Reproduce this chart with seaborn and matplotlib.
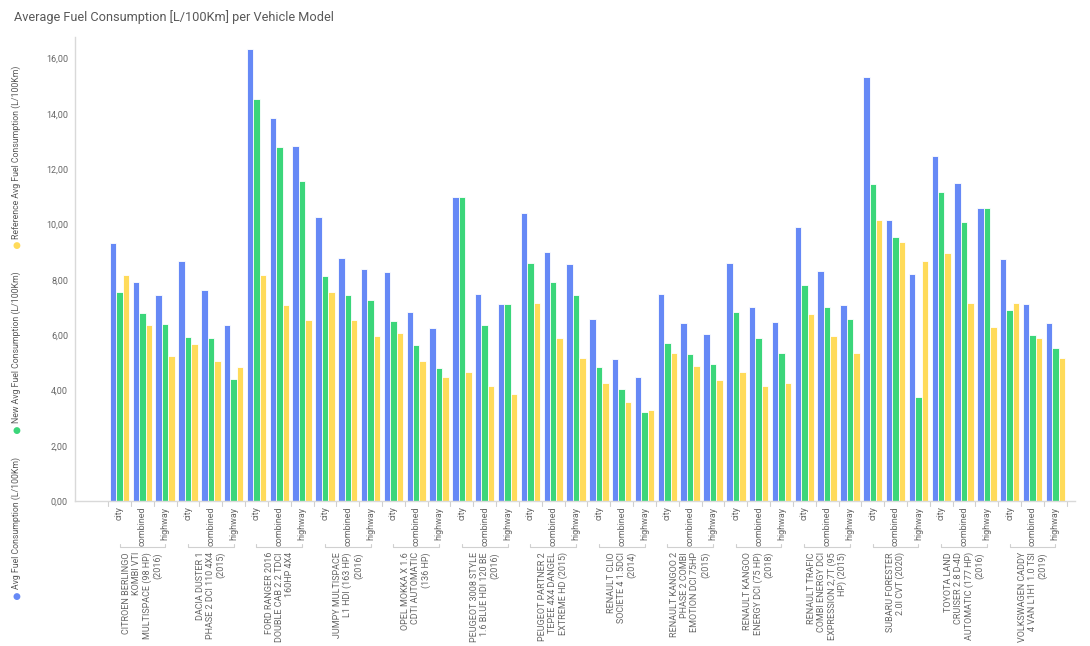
import matplotlib
matplotlib.use("Agg")
import matplotlib.pyplot as plt
from matplotlib.ticker import FuncFormatter, FixedLocator
import matplotlib.transforms as mtransforms
import seaborn as sns
import pandas as pd

models = [
    "CITROEN BERLINGO\nKOMBI VTI\nMULTISPACE (98 HP)\n(2016)",
    "DACIA DUSTER 1\nPHASE 2 DCI 110 4X4\n(2015)",
    "FORD RANGER 2016\nDOUBLE CAB 2.2 TDCI\n160HP 4X4",
    "JUMPY MULTISPACE\nL1 HDI (163 HP)\n(2016)",
    "OPEL MOKKA X 1.6\nCDTI AUTOMATIC\n(136 HP)",
    "PEUGEOT 3008 STYLE\n1.6 BLUE HDI 120 BE\n(2016)",
    "PEUGEOT PARTNER 2\nTEPEE 4X4 DANGEL\nEXTREME HD (2015)",
    "RENAULT CLIO\nSOCIETE 4 1.5DCI\n(2014)",
    "RENAULT KANGOO 2\nPHASE 2 COMBI\nEMOTION DCI 75HP\n(2015)",
    "RENAULT KANGOO\nENERGY DCI (75 HP)\n(2018)",
    "RENAULT TRAFIC\nCOMBI ENERGY DCI\nEXPRESSION 2,7T (95\nHP) (2015)",
    "SUBARU FORESTER\n2.0I CVT (2020)",
    "TOYOTA LAND\nCRUISER 2.8 D-4D\nAUTOMATIC (177 HP)\n(2016)",
    "VOLKSWAGEN CADDY\n4 VAN L1H1 1.0 TSI\n(2019)",
]
modes = ["city", "combined", "highway"]

# values per model: city, combined, highway
avg_fuel = [
    9.34, 7.93, 7.46,
    8.69, 7.62, 6.38,
    16.35, 13.84, 12.83,
    10.27, 8.79, 8.40,
    8.27, 6.84, 6.25,
    11.00, 7.47, 7.12,
    10.40, 9.00, 8.58,
    6.58, 5.12, 4.50,
    7.47, 6.43, 6.04,
    8.61, 7.03, 6.47,
    9.91, 8.31, 7.10,
    15.32, 10.16, 8.22,
    12.47, 11.50, 10.60,
    8.76, 7.12, 6.43,
]
new_avg_fuel = [
    7.57, 6.79, 6.40,
    5.93, 5.88, 4.42,
    14.55, 12.79, 11.57,
    8.14, 7.46, 7.26,
    6.52, 5.64, 4.81,
    11.00, 6.37, 7.12,
    8.61, 7.91, 7.44,
    4.86, 4.06, 3.22,
    5.71, 5.30, 4.94,
    6.84, 5.91, 5.36,
    7.80, 7.03, 6.58,
    11.46, 9.55, 3.77,
    11.18, 10.09, 10.60,
    6.91, 5.99, 5.53,
]
ref_avg_fuel = [
    8.16, 6.37, 5.24,
    5.68, 5.07, 4.86,
    8.16, 7.08, 6.55,
    7.56, 6.55, 5.96,
    6.06, 5.07, 4.48,
    4.67, 4.16, 3.87,
    7.15, 5.88, 5.17,
    4.27, 3.57, 3.28,
    5.36, 4.87, 4.38,
    4.67, 4.16, 4.27,
    6.76, 5.97, 5.36,
    10.16, 9.37, 8.67,
    8.98, 7.16, 6.29,
    7.16, 5.88, 5.17,
]

series_names = [
    "Avg Fuel Consumption (L/100Km)",
    "New Avg Fuel Consumption (L/100Km)",
    "Reference Avg Fuel Consumption (L/100Km)",
]
colors = ["#6689f6", "#3bd67a", "#ffdb5a"]

# long form table
slots = [f"{m}|{md}" for m in models for md in modes]
rows = []
for name, vals in zip(series_names, [avg_fuel, new_avg_fuel, ref_avg_fuel]):
    for s, v in zip(slots, vals):
        rows.append({"slot": s, "series": name, "value": v})
df = pd.DataFrame(rows)

sns.set_style("white")
plt.rcParams["font.family"] = ["Roboto", "DejaVu Sans"]
text_col = "#595959"
label_col = "#666666"

fig = plt.figure(figsize=(10.9, 6.46), dpi=100)
ax = fig.add_axes([75 / 1090, 1 - 501 / 646, 1000 / 1090, 464.3 / 646])

sns.barplot(data=df, x="slot", y="value", hue="series", order=slots,
            hue_order=series_names, palette=colors, saturation=1,
            width=0.85, edgecolor="white", linewidth=0.6, ax=ax, legend=False)

n = len(slots)
ax.set_xlim(-1.95, n - 0.5 + 0.36)
ax.set_ylim(0, 16.79)
ax.set_xlabel("")
ax.set_ylabel("")

ax.yaxis.set_major_locator(FixedLocator([0, 2, 4, 6, 8, 10, 12, 14, 16]))
ax.yaxis.set_major_formatter(FuncFormatter(lambda v, p: f"{v:.2f}".replace(".", ",")))
ax.tick_params(axis="y", labelsize=6.5, labelcolor=label_col, length=3,
               color="#d0d0d0", width=0.8, pad=2)

ax.set_xticks(range(n))
ax.set_xticklabels([md for m in models for md in modes], rotation=90,
                   fontsize=6.5, color=label_col)
ax.tick_params(axis="x", length=0, pad=4)

for side in ["top", "right"]:
    ax.spines[side].set_visible(False)
for side in ["left", "bottom"]:
    ax.spines[side].set_color("#d9d9d9")
    ax.spines[side].set_linewidth(1.0)

# slot separators and group brackets
trans = mtransforms.blended_transform_factory(ax.transData, ax.transAxes)
px = 1 / 464.3
for i in range(n + 1):
    ax.plot([i - 0.5, i - 0.5], [0, -5 * px], color="#d0d0d0", lw=0.8,
            transform=trans, clip_on=False)
for g, name in enumerate(models):
    c0, c2 = g * 3, g * 3 + 2
    yb = -46 * px
    ax.plot([c0, c0, c2, c2], [yb + 3 * px, yb, yb, yb + 3 * px],
            color="#d0d0d0", lw=0.8, transform=trans, clip_on=False)
    ax.text(g * 3 + 1, -51 * px, name, rotation=90, ha="center", va="top",
            multialignment="right", fontsize=6.5, color=label_col,
            linespacing=1.15, transform=trans)

# title
fig.text(14 / 1090, 1 - 17 / 646,
         "Average Fuel Consumption [L/100Km] per Vehicle Model",
         fontsize=9.2, color=text_col, va="center", ha="left")

# vertical legend on the left
legend_dots = [596, 430, 245.7]
for name, col, yd in zip(series_names, colors, legend_dots):
    fig.text(16.7 / 1090, 1 - yd / 646, "\u25CF", color=col, fontsize=6.5,
             ha="center", va="center", family="DejaVu Sans")
    fig.text(16.7 / 1090, 1 - (yd - 7) / 646, name, rotation=90, fontsize=6.3,
             color=text_col, ha="center", va="bottom")

fig.savefig("out.png", dpi=100)
